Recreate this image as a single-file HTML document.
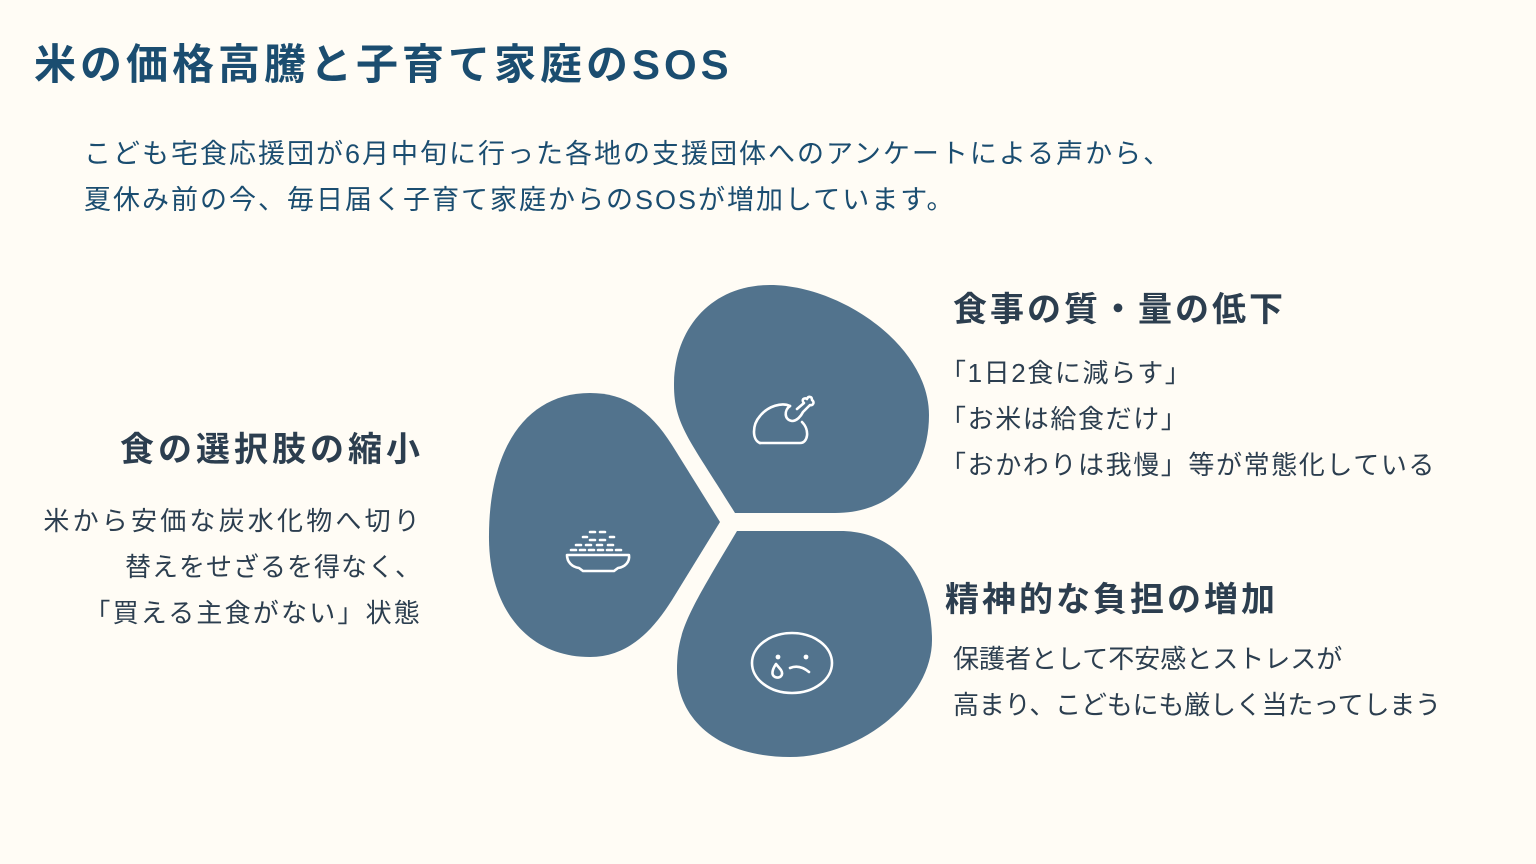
<!DOCTYPE html>
<html><head><meta charset="utf-8"><style>
html,body{margin:0;padding:0;}
body{width:1536px;height:864px;background:#fffcf5;position:relative;overflow:hidden;font-family:"Liberation Sans","Noto Sans CJK JP",sans-serif;}
.t{position:absolute;white-space:nowrap;line-height:1;}
.title{left:34px;top:44px;font-size:42px;font-weight:bold;color:#1b4d70;letter-spacing:4px;}
.sub{left:84px;font-size:27px;color:#1b4d70;letter-spacing:2px;}
.h{font-size:34px;font-weight:bold;color:#2c3e4f;letter-spacing:3px;}
.b{font-size:26px;color:#2c3e4f;letter-spacing:1.6px;}
.r{text-align:right;right:1116px;}
</style></head><body>
<div class="t title">米の価格高騰と子育て家庭のSOS</div>
<div class="t sub" style="top:141px">こども宅食応援団が6月中旬に行った各地の支援団体へのアンケートによる声から、</div>
<div class="t sub" style="top:187px">夏休み前の今、毎日届く子育て家庭からのSOSが増加しています。</div>

<svg width="1536" height="864" style="position:absolute;left:0;top:0">
<g fill="#52738d">
<path d="M735,513 L835,513 C895,513 929,470 929,415 C929,345 840,285 770,285 C710,285 674,330 674,385 C674,425 690,440 735,513 Z"/>
<path d="M720,522 L672,600 C650,635 625,657 590,657 C530,657 490,612 489,540 C488,450 525,393 590,393 C625,393 650,410 672,445 Z"/>
<path d="M737,531 L840,531 C900,531 932,580 932,640 C932,700 860,757 790,757 C720,757 677,720 677,670 C677,630 690,610 737,531 Z"/>
</g>
<g fill="none" stroke="#fff" stroke-width="2.6" stroke-linecap="round" stroke-linejoin="round">
<path d="M760,443 C752,440 752,425 760,416 C768,406 782,402 790,406"/>
<path d="M760,443 L800,443 C808,443 810,430 802,422"/>
<path d="M790,406 C784,410 784,420 792,421 C797,421 801,416 803,412 L810,405 C813,406 815,402 812,400 C812,396 808,396 807,399 C804,397 801,400 804,403 L797,409"/>
<path d="M567,555 L629,555 C630,562 625,567 618,568 L614,571 L583,571 L579,568 C572,567 567,562 567,555 Z"/>
<path d="M571,550 h5 M580,550 h5 M589,550 h5 M598,550 h5 M607,550 h5 M616,550 h5 M576,545 h5 M586,545 h5 M597,545 h5 M608,545 h5 M590,540 h5 M600,540 h5 M590,532 h5 M600,532 h5 M583,537 h4 M610,537 h4"/>
<ellipse cx="792" cy="663" rx="40" ry="30"/>
<path d="M790,668 C797,665 803,667 809,672"/>
<path d="M776,664 C772,670 771,675 775,677 C780,679 784,675 781,670 Z"/>
</g>
<g fill="#fff"><circle cx="778" cy="657" r="2.4"/><circle cx="806" cy="657" r="2.4"/></g>
</svg>

<div class="t h" style="left:953px;top:293px">食事の質・量の低下</div>
<div class="t b" style="left:940px;top:360px">「1日2食に減らす」</div>
<div class="t b" style="left:940px;top:406px">「お米は給食だけ」</div>
<div class="t b" style="left:940px;top:452px">「おかわりは我慢」等が常態化している</div>

<div class="t h r" style="top:433px;letter-spacing:4px;right:1112px">食の選択肢の縮小</div>
<div class="t b r" style="top:508px;letter-spacing:3.2px;right:1113px">米から安価な炭水化物へ切り</div>
<div class="t b r" style="top:554px;letter-spacing:1px;right:1114px">替えをせざるを得なく、</div>
<div class="t b r" style="top:600px;letter-spacing:2.2px;right:1114px">「買える主食がない」状態</div>

<div class="t h" style="left:945px;top:583px">精神的な負担の増加</div>
<div class="t b" style="left:953px;top:646px;letter-spacing:0">保護者として不安感とストレスが</div>
<div class="t b" style="left:953px;top:692px;letter-spacing:-0.2px">高まり、こどもにも厳しく当たってしまう</div>
</body></html>
